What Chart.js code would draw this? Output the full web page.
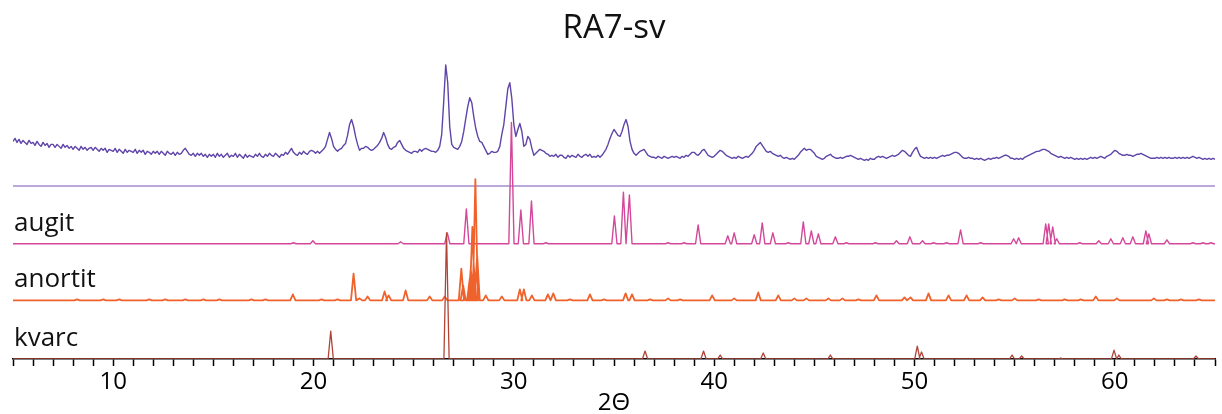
<!DOCTYPE html>
<html>
<head>
<meta charset="utf-8">
<script src="https://cdn.jsdelivr.net/npm/chart.js@4.4.0/dist/chart.umd.min.js"></script>
<style>
  html, body { margin: 0; padding: 0; background: #fff; }
  #wrap { width: 1222px; height: 414px; }
</style>
</head>
<body>
<div id="wrap"><canvas id="xrdChart"></canvas></div>
<script>
// measured scan: 2theta from 5.0 with 0.1 step, intensity above its own zero line
const scanStart = 5.0;
const scanStep = 0.1;
const measured = [
  45, 48, 44, 47, 43, 46, 44, 42, 46, 43,   // 5
  44, 41, 45, 42, 40, 44, 41, 43, 39, 42,   // 6
  42, 39, 42, 40, 38, 42, 39, 41, 38, 40,   // 7
  37, 40, 38, 36, 40, 37, 39, 36, 38, 39,   // 8
  36, 39, 37, 35, 38, 36, 38, 34, 37, 36,   // 9
  35, 38, 34, 37, 35, 33, 37, 34, 36, 35,   // 10
  34, 37, 33, 36, 34, 36, 32, 35, 34, 32,   // 11
  35, 33, 35, 32, 35, 33, 31, 35, 33, 32,   // 12
  34, 31, 34, 32, 33, 36, 38, 35, 32, 31,   // 13
  33, 30, 33, 31, 33, 30, 32, 29, 32, 30,   // 14
  32, 29, 33, 30, 32, 29, 31, 33, 29, 31,   // 15
  30, 33, 29, 32, 30, 28, 32, 29, 31, 30,   // 16
  29, 32, 30, 33, 30, 29, 32, 30, 33, 31,   // 17
  30, 33, 31, 29, 32, 31, 34, 32, 35, 38,   // 18
  34, 32, 31, 34, 32, 35, 33, 32, 35, 36,   // 19
  35, 33, 35, 33, 35, 37, 40, 47, 54, 48,   // 20
  40, 37, 35, 37, 38, 41, 43, 51, 62, 67,   // 21
  60, 50, 42, 36, 38, 38, 40, 39, 37, 36,   // 22
  37, 39, 41, 44, 48, 54, 49, 42, 38, 37,   // 23
  39, 40, 44, 46, 42, 38, 36, 35, 34, 33,   // 24
  35, 35, 34, 37, 35, 37, 38, 37, 36, 35,   // 25
  35, 34, 36, 40, 52, 85, 122, 104, 60, 42, // 26
  39, 38, 37, 40, 45, 55, 68, 80, 89, 84,   // 27
  70, 58, 50, 45, 44, 40, 36, 32, 33, 35,   // 28
  34, 34, 35, 40, 52, 62, 80, 98, 104, 88,  // 29
  62, 50, 57, 63, 55, 40, 42, 50, 47, 38,   // 30
  31, 33, 35, 37, 36, 35, 33, 32, 30, 31,   // 31
  30, 32, 29, 31, 31, 29, 28, 31, 29, 31,   // 32
  30, 29, 32, 30, 29, 31, 32, 30, 32, 29,   // 33
  30, 29, 31, 29, 31, 34, 37, 42, 48, 53,   // 34
  57, 54, 51, 50, 55, 62, 67, 60, 45, 37,   // 35
  33, 31, 33, 35, 36, 37, 34, 31, 30, 29,   // 36
  29, 28, 30, 29, 28, 30, 29, 28, 29, 30,   // 37
  29, 30, 29, 28, 30, 29, 31, 30, 32, 34,   // 38
  34, 32, 31, 33, 36, 37, 34, 31, 30, 29,   // 39
  30, 32, 34, 36, 35, 33, 31, 30, 29, 28,   // 40
  29, 28, 30, 29, 28, 29, 30, 29, 31, 33,   // 41
  36, 40, 42, 44, 41, 38, 35, 34, 35, 33,   // 42
  32, 31, 30, 31, 29, 28, 29, 28, 27, 28,   // 43
  27, 29, 31, 34, 36, 38, 36, 37, 37, 35,   // 44
  33, 30, 29, 28, 27, 28, 30, 31, 32, 30,   // 45
  29, 28, 28, 29, 28, 29, 30, 30, 31, 30,   // 46
  29, 28, 27, 28, 27, 26, 27, 26, 28, 27,   // 47
  27, 29, 30, 29, 30, 29, 28, 29, 30, 31,   // 48
  30, 31, 32, 34, 36, 35, 33, 31, 30, 34,   // 49
  37, 39, 34, 30, 29, 28, 29, 28, 29, 28,   // 50
  29, 28, 29, 30, 31, 30, 31, 31, 32, 33,   // 51
  34, 34, 33, 31, 29, 28, 28, 29, 28, 28,   // 52
  27, 28, 27, 28, 27, 26, 27, 28, 27, 28,   // 53
  28, 29, 28, 29, 30, 31, 31, 30, 28, 28,   // 54
  27, 28, 27, 28, 27, 29, 30, 31, 32, 33,   // 55
  34, 35, 35, 36, 37, 37, 36, 35, 33, 32,   // 56
  31, 30, 29, 30, 29, 28, 29, 28, 29, 28,   // 57
  27, 28, 27, 28, 27, 28, 27, 28, 29, 28,   // 58
  29, 28, 29, 30, 29, 28, 30, 31, 32, 34,   // 59
  36, 35, 33, 32, 31, 31, 32, 31, 31, 30,   // 60
  31, 32, 32, 33, 32, 31, 30, 29, 28, 28,   // 61
  28, 29, 28, 29, 28, 29, 28, 29, 28, 28,   // 62
  29, 28, 29, 28, 29, 28, 29, 28, 29, 30,   // 63
  29, 28, 29, 28, 27, 28, 27, 28, 27, 28,   // 64
  27
];

// reference patterns: peak position (2theta) and relative height
const augitPos = [19.0, 19.97, 24.35, 26.68, 27.63, 29.88, 30.35, 30.88, 31.6, 35.02,
  35.47, 35.77, 37.7, 38.5, 39.2, 40.68, 41.0, 42.0, 42.4, 42.93,
  43.7, 44.45, 44.85, 45.2, 46.05, 46.6, 48.05, 49.1, 49.77, 50.4,
  50.95, 51.6, 52.3, 53.3, 54.95, 55.2, 56.55, 56.7, 56.9, 57.1,
  58.25, 59.2, 59.8, 60.4, 60.9, 61.55, 61.7, 62.6, 63.9, 64.4, 64.8];
const augitInt = [1, 3, 2, 11, 35, 122, 34, 43, 1, 28,
  52, 49, 1, 1, 19, 8, 11, 9, 21, 11,
  1, 22, 13, 10, 7, 1, 1, 3, 7, 3,
  1, 1, 14, 1, 5, 6, 20, 20, 17, 5,
  1, 3, 5, 6, 7, 13, 10, 4, 1, 1, 1];

const anortitPos = [8.2, 9.5, 10.3, 11.8, 12.6, 13.6, 14.5, 15.3, 16.9, 17.6,
  18.97, 20.4, 21.2, 22.0, 22.3, 22.7, 23.55, 23.75, 24.6, 25.8,
  26.55, 27.38, 27.47, 27.8, 27.85, 27.93, 28.0, 28.08, 28.17, 28.6,
  29.4, 30.3, 30.5, 30.9, 31.7, 31.97, 32.8, 33.8, 34.5, 35.58,
  35.9, 36.8, 37.7, 38.3, 39.9, 41.0, 42.2, 43.2, 44.0, 44.6,
  45.7, 46.4, 47.2, 48.1, 49.5, 49.8, 50.7, 51.7, 52.6, 53.4,
  54.2, 55.0, 56.2, 57.5, 58.3, 59.05, 60.1, 61.95, 62.6, 63.3, 64.2];
const anortitInt = [1, 1, 1, 1, 1, 1, 1, 1, 1, 1,
  6, 1, 1, 27, 2, 4, 9, 5, 10, 4,
  4, 32, 15, 22, 32, 74, 35, 122, 45, 5,
  4, 11, 11, 5, 6, 7, 1, 6, 1, 7,
  6, 1, 2, 1, 5, 2, 8, 5, 2, 2,
  2, 2, 1, 5, 3, 3, 7, 5, 5, 3,
  1, 2, 1, 1, 1, 4, 2, 2, 1, 1, 1];

const kvarcPos = [20.86, 26.64, 36.55, 39.47, 40.3, 42.45, 45.8, 50.14, 50.35, 54.87, 55.35, 57.3, 59.96, 60.2, 64.05];
const kvarcInt = [28, 127, 8, 8, 4, 6, 4, 13, 7, 4, 3, 1, 9, 4, 3];

const phaseNames = ['augit', 'anortit', 'kvarc'];
const xLabelTicks = [10, 20, 30, 40, 50, 60];

// vertical offsets of each trace (stacked plot)
const offsets = { measured: 174, augit: 116, anortit: 59, kvarc: 0 };

const FONT = '"Open Sans", "Noto Sans", sans-serif';

function stickLine(pos, inten, base) {
  const pts = [{ x: 5, y: base }];
  pos.forEach((p, i) => {
    pts.push({ x: p - 0.13, y: base });
    pts.push({ x: p, y: base + inten[i] });
    pts.push({ x: p + 0.13, y: base });
  });
  pts.push({ x: 65, y: base });
  return pts;
}

const measuredPts = measured.map((v, i) => ({ x: scanStart + i * scanStep, y: offsets.measured + v }));

// labels of the phases, written just above their baselines
const phaseLabels = {
  id: 'phaseLabels',
  afterDatasetsDraw(chart) {
    const ctx = chart.ctx;
    const yScale = chart.scales.y;
    ctx.save();
    ctx.font = '26px ' + FONT;
    ctx.fillStyle = '#111';
    ctx.textAlign = 'left';
    ctx.textBaseline = 'alphabetic';
    phaseNames.forEach(name => {
      ctx.fillText(name, chart.chartArea.left + 1, yScale.getPixelForValue(offsets[name]) - 13);
    });
    ctx.restore();
  }
};

const ctx = document.getElementById('xrdChart').getContext('2d');
new Chart(ctx, {
  type: 'line',
  data: {
    datasets: [
      { label: 'kvarc', data: stickLine(kvarcPos, kvarcInt, offsets.kvarc), borderColor: '#b04438', borderWidth: 1.3 },
      { label: 'anortit', data: stickLine(anortitPos, anortitInt, offsets.anortit), borderColor: '#f0622c', borderWidth: 1.8 },
      { label: 'augit', data: stickLine(augitPos, augitInt, offsets.augit), borderColor: '#d4479a', borderWidth: 1.4 },
      { label: 'RA7-sv', data: measuredPts, borderColor: '#5f45a8', borderWidth: 1.4 },
      { label: 'zero', data: [{ x: 5, y: offsets.measured }, { x: 65, y: offsets.measured }], borderColor: '#a58ccc', borderWidth: 1.5 }
    ]
  },
  options: {
    responsive: true,
    maintainAspectRatio: false,
    animation: false,
    layout: { padding: { left: 13, right: 7, top: 0, bottom: 0 } },
    elements: {
      point: { radius: 0 },
      line: { tension: 0, fill: false, borderJoinStyle: 'round' }
    },
    plugins: {
      legend: { display: false },
      tooltip: { enabled: false },
      title: {
        display: true,
        text: 'RA7-sv',
        color: '#111',
        font: { family: FONT, size: 33, weight: 'normal' },
        padding: { top: 8.5, bottom: 1.9 }
      }
    },
    scales: {
      x: {
        type: 'linear',
        min: 5,
        max: 65,
        grid: { drawOnChartArea: false, drawTicks: true, tickLength: 7, tickColor: '#000', tickWidth: 1.5 },
        border: { color: '#000', width: 1.5 },
        ticks: {
          stepSize: 1,
          autoSkip: false,
          maxRotation: 0,
          padding: 2,
          color: '#000',
          font: { family: FONT, size: 24 },
          callback: v => xLabelTicks.includes(v) ? String(v) : ''
        },
        title: {
          display: true,
          text: '2Θ',
          color: '#000',
          font: { family: FONT, size: 24 },
          padding: { top: -10.2, bottom: -3.4 }
        }
      },
      y: {
        display: false,
        min: 0,
        max: 311
      }
    }
  },
  plugins: [phaseLabels]
});
</script>
</body>
</html>
